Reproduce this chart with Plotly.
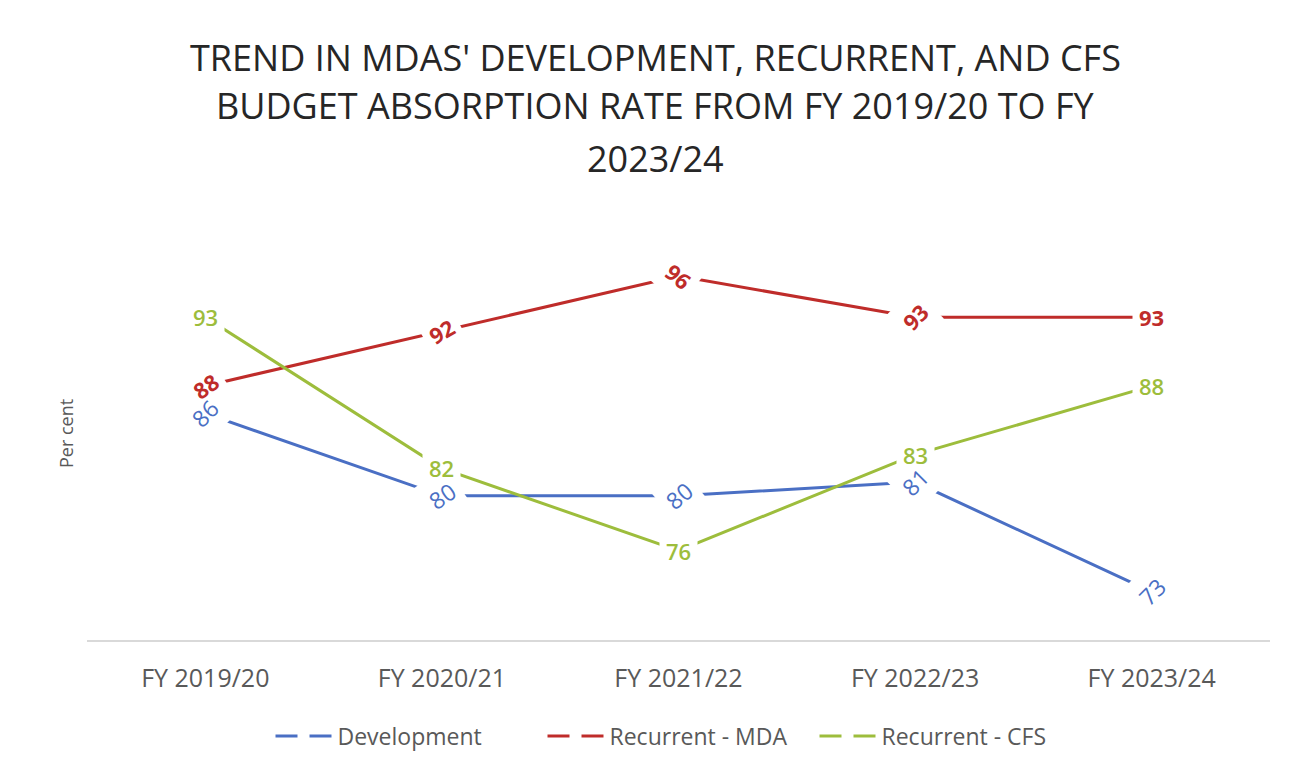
import plotly.graph_objects as go

categories = ["FY 2019/20", "FY 2020/21", "FY 2021/22", "FY 2022/23", "FY 2023/24"]
development = [86, 80, 80, 81, 73]
recurrent_mda = [88, 92, 96, 93, 93]
recurrent_cfs = [93, 82, 76, 83, 88]

series_names = ["Development", "Recurrent - MDA", "Recurrent - CFS"]
title_lines = [
    "TREND IN MDAS' DEVELOPMENT, RECURRENT, AND CFS",
    "BUDGET ABSORPTION RATE FROM FY 2019/20 TO FY",
    "2023/24",
]

# styles
colors = ["#4A6FC4", "#BF2C2A", "#9DBD3C"]
label_angles = [
    [-45, -35, -40, -45, -45],
    [-35, -30, 40, -45, 0],
    [0, 0, 0, 0, 0],
]
label_weights = ["normal", "bold", 600]
label_sizes = [23, 22, 22]
FONT = "Open Sans"

fig = go.Figure()
all_series = [development, recurrent_mda, recurrent_cfs]

for name, vals, col in zip(series_names, all_series, colors):
    fig.add_trace(go.Scatter(
        x=categories, y=vals, mode="lines", name=name,
        line=dict(color=col, width=3), showlegend=False, hoverinfo="x+y",
    ))

for name, col in zip(series_names, colors):
    fig.add_trace(go.Scatter(
        x=[None], y=[None], mode="lines", name=name,
        line=dict(color=col, width=3, dash="22px,12px"), showlegend=True,
    ))

annotations = []
# layer 1: white knock-out boxes that break the lines around each label
for vals, angles, wt, sz in zip(all_series, label_angles, label_weights, label_sizes):
    for c, v, a in zip(categories, vals, angles):
        annotations.append(dict(
            x=c, y=v, xref="x", yref="y", text=str(v), showarrow=False,
            textangle=a, bgcolor="white", borderpad=6,
            font=dict(family=FONT, size=sz, color="white", weight=wt),
            xanchor="center", yanchor="middle",
        ))
# layer 2: the coloured value labels on top
for vals, col, angles, wt, sz in zip(all_series, colors, label_angles, label_weights, label_sizes):
    for c, v, a in zip(categories, vals, angles):
        annotations.append(dict(
            x=c, y=v, xref="x", yref="y", text=str(v), showarrow=False,
            textangle=a, borderpad=6,
            font=dict(family=FONT, size=sz, color=col, weight=wt),
            xanchor="center", yanchor="middle",
        ))

PLOT_TOP, PLOT_BOTTOM = 228, 640
ph = PLOT_BOTTOM - PLOT_TOP
title_centers = [57, 106, 158]
for line, py in zip(title_lines, title_centers):
    annotations.append(dict(
        text=line, xref="paper", yref="paper",
        x=(655 - 87) / (1305 - 87 - 35), y=(PLOT_BOTTOM - py) / ph,
        xanchor="center", yanchor="middle", showarrow=False,
        font=dict(family=FONT, size=36, color="#262626"),
    ))

annotations.append(dict(
    text="Per cent", xref="paper", yref="paper",
    x=(66 - 87) / (1305 - 87 - 35), y=0.5, textangle=-90,
    xanchor="center", yanchor="middle", showarrow=False,
    font=dict(family=FONT, size=18, color="#595959"),
))

fig.update_layout(
    width=1305, height=768,
    margin=dict(l=87, r=35, t=PLOT_TOP, b=768 - PLOT_BOTTOM, autoexpand=False),
    paper_bgcolor="white", plot_bgcolor="white",
    annotations=annotations,
    showlegend=True,
    legend=dict(
        orientation="h", x=0.5, xanchor="center", y=(PLOT_BOTTOM - 736) / ph,
        yanchor="middle", font=dict(family=FONT, size=23, color="#595959"),
        itemwidth=57, entrywidth=200, bgcolor="rgba(0,0,0,0)",
    ),
    xaxis=dict(
        type="category", range=[-0.5, 4.5], showgrid=False, zeroline=False,
        showline=True, linecolor="#D9D9D9", linewidth=1.5,
        ticks="", ticklabelstandoff=15,
        tickfont=dict(family=FONT, size=25, color="#595959"),
    ),
    yaxis=dict(
        range=[69.5, 99.5], showgrid=False, zeroline=False, showline=False,
        showticklabels=False, ticks="",
    ),
)

fig.write_html(
    "out.html",
    config={"displayModeBar": False},
    post_script="document.body.style.margin='0';",
)
